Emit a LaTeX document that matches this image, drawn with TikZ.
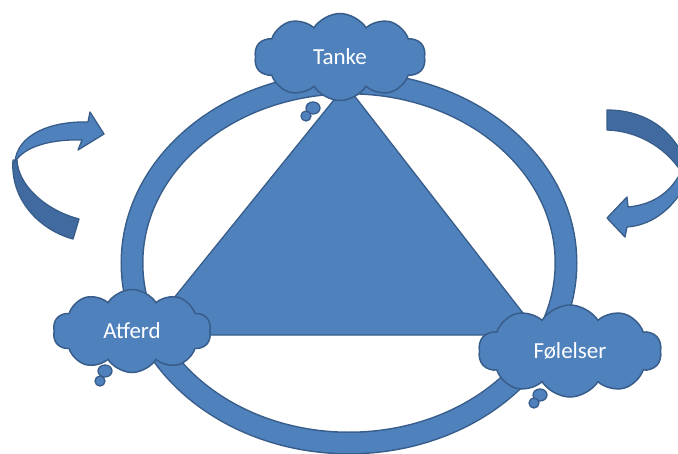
\documentclass[tikz,border=0pt]{standalone}
\usepackage{fontspec}
\setmainfont{Carlito}
\usetikzlibrary{shapes.symbols}
\definecolor{boxblue}{RGB}{79,129,189}
\definecolor{lineblue}{RGB}{56,93,138}
\definecolor{shadeblue}{RGB}{65,107,160}
\tikzset{
  thought/.style={cloud, cloud puffs=10, cloud puff arc=115, cloud ignores aspect,
    draw=lineblue, line width=1.5pt, fill=boxblue, text=white,
    font=\fontsize{23}{27}\selectfont, inner sep=0pt},
  bubble/.style={draw=lineblue, line width=1.3pt, fill=boxblue},
  band/.style={draw=lineblue, line width=1.3pt, line join=round}
}
\begin{document}
\begin{tikzpicture}[x=1pt,y=-1pt]
	\useasboundingbox (0,0) rectangle (678,453);
	\clip (0,0) rectangle (678,453);
	\draw[lineblue, line width=1.5pt, double=boxblue, double distance=20pt]
		(349,263) ellipse [x radius=217, y radius=180];
	\coordinate (apex) at (346,85);
	\coordinate (baseL) at (144,335);
	\coordinate (baseR) at (540,335);
	\draw[band, fill=boxblue] (apex) -- (baseL) -- (baseR) -- cycle;
	\node[thought, minimum width=171pt, minimum height=87pt] (tanke) at (340,57) {Tanke};
	\node[thought, minimum width=158pt, minimum height=83pt] (atferd) at (132,331) {Atferd};
	\node[thought, minimum width=183pt, minimum height=92pt] (folelser) at (570,351) {Følelser};
	\foreach \x/\y in {313/108, 105/371, 540/395}{
			\draw[bubble] (\x,\y) ellipse [x radius=7, y radius=6];
		}
	\foreach \x/\y in {306/116, 100/381, 534/403}{
			\draw[bubble] (\x,\y) ellipse [x radius=5, y radius=5];
		}
	% venstre pil
	\draw[band, fill=shadeblue] (73,239) .. controls (40,230) and (10,200) .. (13,160)
		-- (17,160) .. controls (18,185) and (45,210) .. (79,219) -- cycle;
	\draw[band, fill=boxblue] (15,162) .. controls (17,135) and (50,121) .. (88,122)
		-- (90,112) -- (104,134) -- (78,150) -- (82,140)
		.. controls (55,139) and (25,145) .. (15,162) -- cycle;
	% hoyre pil
	\draw[band, fill=shadeblue] (607,110) .. controls (640,110) and (670,125) .. (685,160)
		-- (685,178) .. controls (670,150) and (640,131) .. (607,130) -- cycle;
	\draw[band, fill=boxblue] (682,170) .. controls (670,195) and (650,205) .. (628,207)
		-- (627,197) -- (607,218) -- (625,237) -- (627,227)
		.. controls (655,225) and (675,205) .. (685,185) -- cycle;
\end{tikzpicture}
\end{document}
